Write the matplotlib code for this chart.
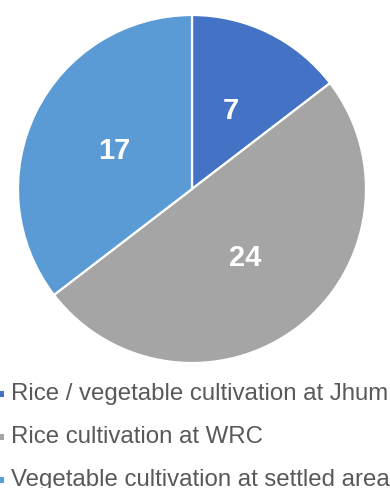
import matplotlib
matplotlib.use("Agg")
import matplotlib.pyplot as plt
from matplotlib.patches import Rectangle

categories = ["Rice / vegetable cultivation at Jhum",
              "Rice cultivation at WRC",
              "Vegetable cultivation at settled area"]
values = [7, 24, 17]
colors = ["#4472C4", "#A5A5A5", "#5B9BD5"]

plt.rcParams['font.family'] = ['Liberation Sans', 'DejaVu Sans']

W, H = 390, 488
fig = plt.figure(figsize=(W/100, H/100), dpi=100)
cx, cy, r = 192, 189, 174
ax = fig.add_axes([(cx - r)/W, 1 - (cy + r)/H, 2*r/W, 2*r/H])
wedges, texts = ax.pie(values, colors=colors, startangle=90, counterclock=False,
                       labels=[str(v) for v in values], labeldistance=0.5,
                       wedgeprops=dict(edgecolor="white", linewidth=1.6),
                       textprops=dict(color="white", fontsize=21, fontweight="bold",
                                      ha="center", va="center"))
ax.set_xlim(-1, 1)
ax.set_ylim(-1, 1)
ax.set_aspect("auto")
ax.axis("off")

row_y = [394, 437, 480]
for lab, col, yy in zip(categories, colors, row_y):
    fig.patches.append(Rectangle((0/W, 1 - (yy + 3)/H), 4/W, 6/H,
                                 transform=fig.transFigure, facecolor=col,
                                 edgecolor="none"))
    fig.text(11/W, 1 - yy/H, lab, fontsize=17.3, color="#595959",
             ha="left", va="center")

fig.savefig("out.png", dpi=100)
